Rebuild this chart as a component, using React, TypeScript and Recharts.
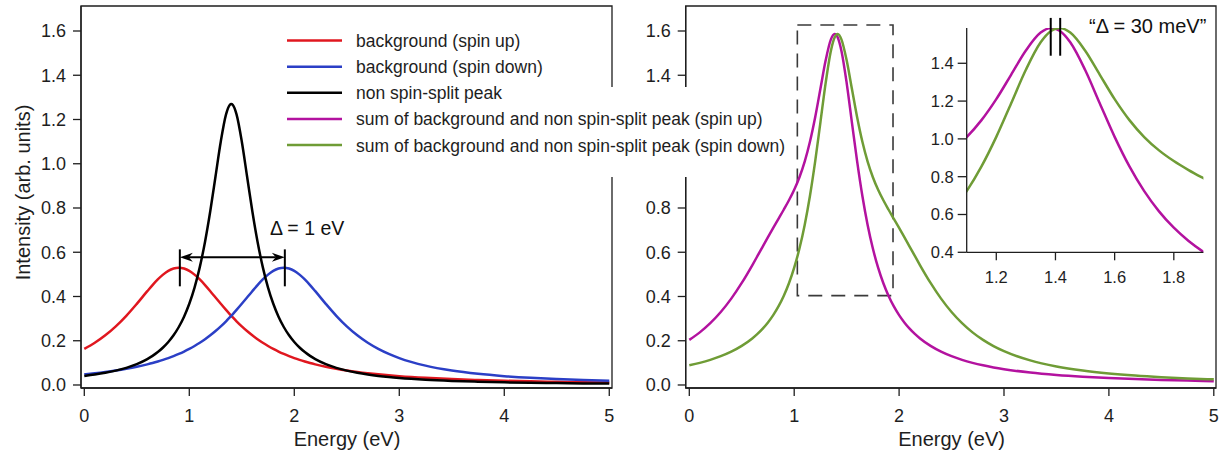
import React from 'react';
import { LineChart, Line, XAxis, YAxis, ReferenceLine, ReferenceArea } from 'recharts';

// Energy axis samples (eV)
const energy = [0, 0.1, 0.2, 0.3, 0.4, 0.5, 0.6, 0.65, 0.7, 0.75, 0.8, 0.85, 0.9, 0.95, 1.0, 1.05, 1.1, 1.15, 1.2, 1.25, 1.3, 1.35, 1.385, 1.4, 1.415, 1.45, 1.5, 1.55, 1.6, 1.65, 1.7, 1.75, 1.8, 1.85, 1.9, 1.95, 2.0, 2.05, 2.1, 2.15, 2.2, 2.3, 2.4, 2.5, 2.6, 2.7, 2.8, 2.9, 3.0, 3.25, 3.5, 3.75, 4.0, 4.25, 4.5, 4.75, 5.0];

const bgSpinUp = [0.1631, 0.1908, 0.2245, 0.265, 0.3128, 0.3669, 0.424, 0.4516, 0.477, 0.4988, 0.5157, 0.5263, 0.53, 0.5263, 0.5157, 0.4988, 0.477, 0.4516, 0.424, 0.3954, 0.3669, 0.3392, 0.3205, 0.3128, 0.3052, 0.288, 0.265, 0.2438, 0.2245, 0.2068, 0.1908, 0.1763, 0.1631, 0.1511, 0.1403, 0.1305, 0.1215, 0.1134, 0.106, 0.0992, 0.0931, 0.0822, 0.0731, 0.0653, 0.0587, 0.053, 0.0481, 0.0438, 0.04, 0.0324, 0.0268, 0.0225, 0.0191, 0.0165, 0.0143, 0.0126, 0.0111];

const bgSpinDown = [0.0481, 0.053, 0.0587, 0.0653, 0.0731, 0.0822, 0.0931, 0.0992, 0.106, 0.1134, 0.1215, 0.1305, 0.1403, 0.1511, 0.1631, 0.1763, 0.1908, 0.2068, 0.2245, 0.2438, 0.265, 0.288, 0.3052, 0.3128, 0.3205, 0.3392, 0.3669, 0.3954, 0.424, 0.4516, 0.477, 0.4988, 0.5157, 0.5263, 0.53, 0.5263, 0.5157, 0.4988, 0.477, 0.4516, 0.424, 0.3669, 0.3128, 0.265, 0.2245, 0.1908, 0.1631, 0.1403, 0.1215, 0.0874, 0.0653, 0.0504, 0.04, 0.0324, 0.0268, 0.0225, 0.0191];

const nonSplitPeak = [0.0408, 0.0471, 0.0549, 0.0648, 0.0775, 0.0944, 0.1171, 0.1316, 0.1488, 0.1694, 0.1943, 0.2247, 0.2621, 0.3087, 0.367, 0.4404, 0.5327, 0.6476, 0.7863, 0.9435, 1.1007, 1.223, 1.2656, 1.27, 1.2656, 1.223, 1.1007, 0.9435, 0.7863, 0.6476, 0.5327, 0.4404, 0.367, 0.3087, 0.2621, 0.2247, 0.1943, 0.1694, 0.1488, 0.1316, 0.1171, 0.0944, 0.0775, 0.0648, 0.0549, 0.0471, 0.0408, 0.0357, 0.0315, 0.0237, 0.0185, 0.0148, 0.0121, 0.0101, 0.0085, 0.0073, 0.0063];

const sumSpinUp = [0.2039, 0.2379, 0.2794, 0.3298, 0.3903, 0.4613, 0.5411, 0.5832, 0.6258, 0.6682, 0.71, 0.751, 0.7921, 0.835, 0.8827, 0.9392, 1.0097, 1.0992, 1.2103, 1.3389, 1.4676, 1.5622, 1.5861, 1.5828, 1.5708, 1.511, 1.3657, 1.1873, 1.0108, 0.8544, 0.7235, 0.6167, 0.5301, 0.4598, 0.4024, 0.3552, 0.3158, 0.2828, 0.2548, 0.2308, 0.2102, 0.1766, 0.1506, 0.1301, 0.1136, 0.1001, 0.0889, 0.0795, 0.0715, 0.0561, 0.0453, 0.0373, 0.0312, 0.0266, 0.0228, 0.0199, 0.0174];

const sumSpinDown = [0.0889, 0.1001, 0.1136, 0.1301, 0.1506, 0.1766, 0.2102, 0.2308, 0.2548, 0.2828, 0.3158, 0.3552, 0.4024, 0.4598, 0.5301, 0.6167, 0.7235, 0.8544, 1.0108, 1.1873, 1.3657, 1.511, 1.5708, 1.5828, 1.5861, 1.5622, 1.4676, 1.3389, 1.2103, 1.0992, 1.0097, 0.9392, 0.8827, 0.835, 0.7921, 0.751, 0.71, 0.6682, 0.6258, 0.5832, 0.5411, 0.4613, 0.3903, 0.3298, 0.2794, 0.2379, 0.2039, 0.176, 0.153, 0.1111, 0.0838, 0.0652, 0.0521, 0.0425, 0.0353, 0.0298, 0.0254];

const xTicks = [0, 1, 2, 3, 4, 5];
const yTicks = [0, 0.2, 0.4, 0.6, 0.8, 1.0, 1.2, 1.4, 1.6];
// right panel: 1.0 and 1.2 are hidden behind the legend in the reference
const rightYTicks = [0, 0.2, 0.4, 0.6, 0.8, 1.4, 1.6];
const insetXTicks = [1.2, 1.4, 1.6, 1.8];
const insetYTicks = [0.4, 0.6, 0.8, 1.0, 1.2, 1.4];

const legendLabels = [
  'background (spin up)',
  'background (spin down)',
  'non spin-split peak',
  'sum of background and non spin-split peak (spin up)',
  'sum of background and non spin-split peak (spin down)',
];

const COLORS = {
  up: '#e0171f',
  down: '#2b3fc6',
  peak: '#000000',
  sumUp: '#b3129f',
  sumDown: '#6f9c36',
};
const legendColors = [COLORS.up, COLORS.down, COLORS.peak, COLORS.sumUp, COLORS.sumDown];

const data = energy.map((e, i) => ({
  e,
  up: bgSpinUp[i],
  down: bgSpinDown[i],
  peak: nonSplitPeak[i],
  sumUp: sumSpinUp[i],
  sumDown: sumSpinDown[i],
}));

const FONT = '"Liberation Sans", Arial, Helvetica, sans-serif';
const AX = '#1e1e1e';

const leftX: [number, number] = [-0.0314, 5.026];
const rightX: [number, number] = [-0.0343, 5.021];
const mainY: [number, number] = [-0.0136, 1.713];
const insetX: [number, number] = [1.1, 1.9];
const insetY: [number, number] = [0.4, 1.5861];

const fmt1 = (v: number) => v.toFixed(1);

const ArrowShape = (props: any) => {
  const { x1, y1, x2, y2 } = props;
  const L = 13;
  const H = 4.5;
  const N = 9;
  return (
    <g>
      <line x1={x1 + N} y1={y1} x2={x2 - N} y2={y2} stroke="#000" strokeWidth={2} />
      <polygon points={`${x1},${y1} ${x1 + L},${y1 - H} ${x1 + N},${y1} ${x1 + L},${y1 + H}`} fill="#000" />
      <polygon points={`${x2},${y2} ${x2 - L},${y2 - H} ${x2 - N},${y2} ${x2 - L},${y2 + H}`} fill="#000" />
    </g>
  );
};

const tickStyle = { fill: '#1e1e1e', fontSize: 18, fontFamily: FONT };
const insetTickStyle = { fill: '#1e1e1e', fontSize: 16.5, fontFamily: FONT };

export default function App() {
  return (
    <div style={{ position: 'absolute', left: 0, top: 0, width: 1225, height: 456, background: '#fff', fontFamily: FONT }}>
      {/* Left panel */}
      <div style={{ position: 'absolute', left: 0, top: 0 }}>
        <LineChart width={620} height={456} data={data} margin={{ top: 6, right: 8, left: 0, bottom: 0 }}>
          <XAxis
            dataKey="e"
            type="number"
            domain={leftX}
            allowDataOverflow
            ticks={xTicks}
            interval={0}
            tickSize={8}
            tickMargin={13}
            height={68}
            stroke={AX}
            strokeWidth={1.3}
            tick={tickStyle}
          />
          <YAxis
            type="number"
            domain={mainY}
            allowDataOverflow
            ticks={yTicks}
            interval={0}
            tickFormatter={fmt1}
            tickSize={8}
            tickMargin={7}
            width={81}
            stroke={AX}
            strokeWidth={1.3}
            tick={tickStyle}
          />
          <ReferenceArea x1={leftX[0]} x2={leftX[1]} y1={mainY[0]} y2={mainY[1]} fill="none" fillOpacity={0} stroke={AX} strokeWidth={1.3} ifOverflow="visible" />
          <Line type="monotone" dataKey="up" stroke={COLORS.up} strokeWidth={2.5} dot={false} isAnimationActive={false} />
          <Line type="monotone" dataKey="down" stroke={COLORS.down} strokeWidth={2.5} dot={false} isAnimationActive={false} />
          <Line type="monotone" dataKey="peak" stroke={COLORS.peak} strokeWidth={2.5} dot={false} isAnimationActive={false} />
          <ReferenceLine segment={[{ x: 0.91, y: 0.446 }, { x: 0.91, y: 0.613 }]} stroke="#000" strokeWidth={2} />
          <ReferenceLine segment={[{ x: 1.91, y: 0.446 }, { x: 1.91, y: 0.613 }]} stroke="#000" strokeWidth={2} />
          <ReferenceLine segment={[{ x: 0.91, y: 0.577 }, { x: 1.91, y: 0.577 }]} stroke="#000" strokeWidth={2} shape={ArrowShape} />
        </LineChart>
      </div>

      {/* Right panel */}
      <div style={{ position: 'absolute', left: 620, top: 0 }}>
        <LineChart width={605} height={456} data={data} margin={{ top: 6, right: 9, left: 0, bottom: 0 }}>
          <XAxis
            dataKey="e"
            type="number"
            domain={rightX}
            allowDataOverflow
            ticks={xTicks}
            interval={0}
            tickSize={8}
            tickMargin={13}
            height={68}
            stroke={AX}
            strokeWidth={1.3}
            tick={tickStyle}
          />
          <YAxis
            type="number"
            domain={mainY}
            allowDataOverflow
            ticks={rightYTicks}
            interval={0}
            tickFormatter={fmt1}
            tickSize={8}
            tickMargin={7}
            width={65.7}
            stroke={AX}
            strokeWidth={1.3}
            tick={tickStyle}
          />
          <ReferenceArea x1={rightX[0]} x2={rightX[1]} y1={mainY[0]} y2={mainY[1]} fill="none" fillOpacity={0} stroke={AX} strokeWidth={1.3} ifOverflow="visible" />
          <ReferenceArea x1={1.03} x2={1.942} y1={0.404} y2={1.627} fill="none" fillOpacity={0} stroke="#3a3a3a" strokeWidth={1.6} strokeDasharray="14 9" />
          <Line type="monotone" dataKey="sumUp" stroke={COLORS.sumUp} strokeWidth={2.5} dot={false} isAnimationActive={false} />
          <Line type="monotone" dataKey="sumDown" stroke={COLORS.sumDown} strokeWidth={2.5} dot={false} isAnimationActive={false} />
        </LineChart>
      </div>

      {/* Inset */}
      <div style={{ position: 'absolute', left: 900, top: 0 }}>
        <LineChart width={310} height={300} data={data} margin={{ top: 28.1, right: 6.6, left: 0, bottom: 0 }}>
          <XAxis
            dataKey="e"
            type="number"
            domain={insetX}
            allowDataOverflow
            ticks={insetXTicks}
            interval={0}
            tickFormatter={fmt1}
            tickSize={8}
            tickMargin={11}
            height={47.7}
            stroke={AX}
            strokeWidth={1.3}
            tick={insetTickStyle}
          />
          <YAxis
            type="number"
            domain={insetY}
            allowDataOverflow
            ticks={insetYTicks}
            interval={0}
            tickFormatter={fmt1}
            tickSize={9}
            tickMargin={4}
            width={66.7}
            stroke={AX}
            strokeWidth={1.3}
            tick={insetTickStyle}
          />
          <Line type="monotone" dataKey="sumUp" stroke={COLORS.sumUp} strokeWidth={2.5} dot={false} isAnimationActive={false} />
          <Line type="monotone" dataKey="sumDown" stroke={COLORS.sumDown} strokeWidth={2.5} dot={false} isAnimationActive={false} />
          <ReferenceLine segment={[{ x: 1.384, y: 1.44 }, { x: 1.384, y: 1.64 }]} stroke="#000" strokeWidth={2} ifOverflow="visible" />
          <ReferenceLine segment={[{ x: 1.416, y: 1.44 }, { x: 1.416, y: 1.64 }]} stroke="#000" strokeWidth={2} ifOverflow="visible" />
        </LineChart>
      </div>

      {/* Overlay: titles, annotations, legend */}
      <svg width={1225} height={456} style={{ position: 'absolute', left: 0, top: 0, pointerEvents: 'none' }}>
        <text x={29.5} y={192.5} transform="rotate(-90 29.5 192.5)" textAnchor="middle" fontSize={20} fontFamily={FONT} fill="#1e1e1e">
          Intensity (arb. units)
        </text>
        <text x={347} y={446} textAnchor="middle" fontSize={20} fontFamily={FONT} fill="#1e1e1e">
          Energy (eV)
        </text>
        <text x={951.6} y={446} textAnchor="middle" fontSize={20} fontFamily={FONT} fill="#1e1e1e">
          Energy (eV)
        </text>
        <text x={270} y={235} fontSize={19.5} fontFamily={FONT} fill="#111">
          Δ = 1 eV
        </text>
        <text x={1089} y={33} fontSize={20} fontFamily={FONT} fill="#111">
          “Δ = 30 meV”
        </text>
        <rect x={280} y={87} width={515} height={90} fill="#fff" />
        {legendLabels.map((label, i) => {
          const y = 40.5 + i * 26.15;
          return (
            <g key={label}>
              <line x1={287} y1={y} x2={342} y2={y} stroke={legendColors[i]} strokeWidth={2.5} />
              <text x={356} y={y + 6.5} fontSize={17.5} fontFamily={FONT} fill="#1e1e1e">
                {label}
              </text>
            </g>
          );
        })}
      </svg>
    </div>
  );
}
